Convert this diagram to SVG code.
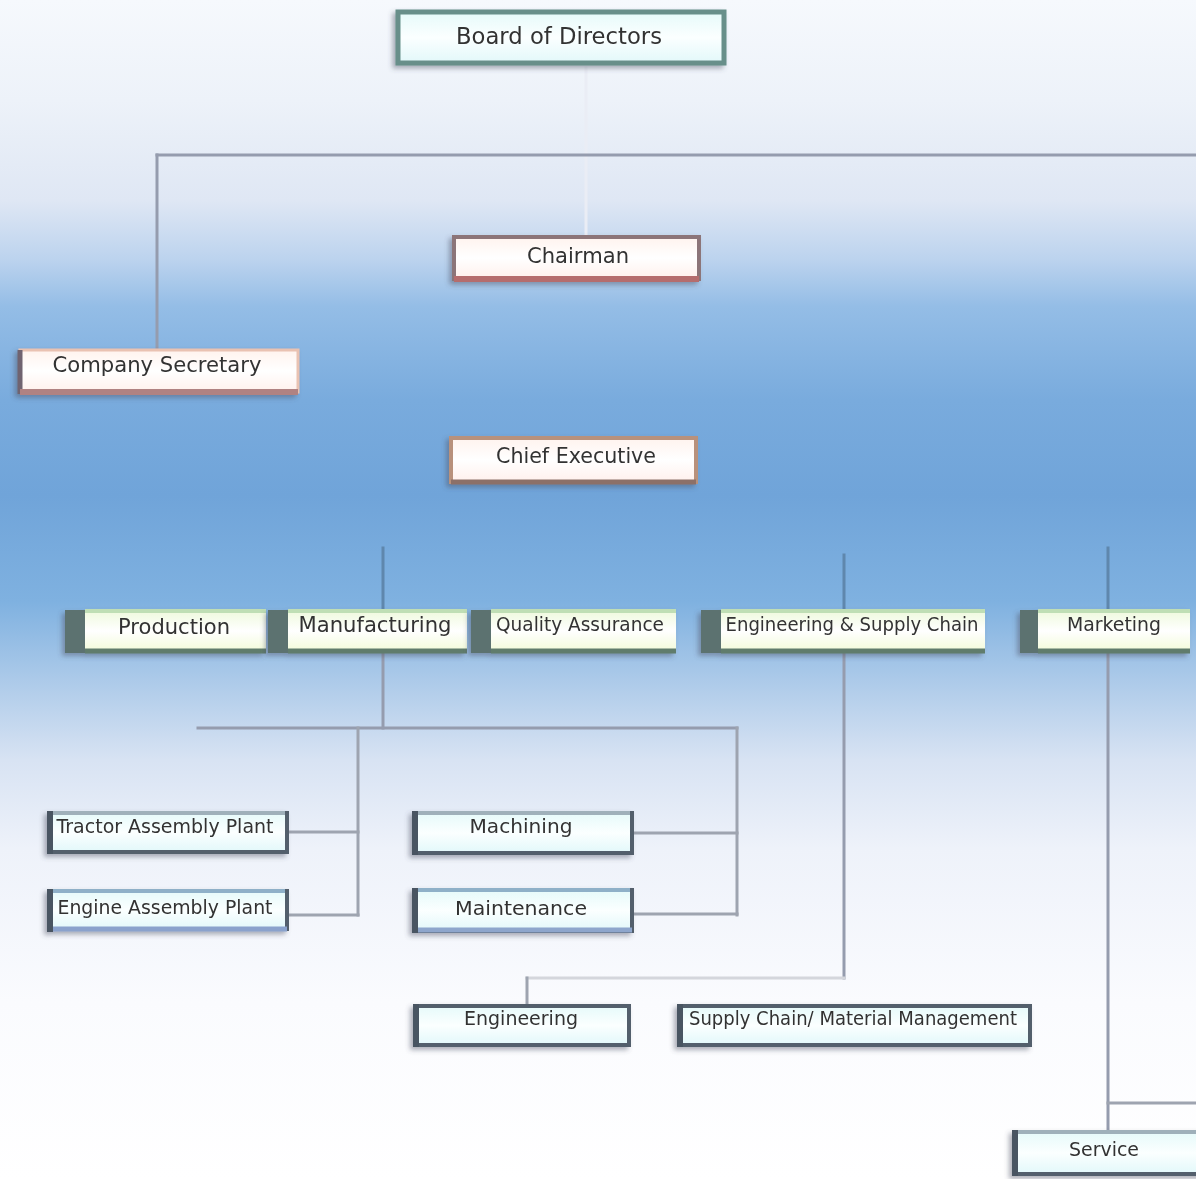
<svg xmlns="http://www.w3.org/2000/svg" width="1196" height="1179" viewBox="0 0 1196 1179">
<defs>
<linearGradient id="bg" x1="0" y1="0" x2="0" y2="1">
<stop offset="0" stop-color="#f6f9fd"/>
<stop offset="0.085" stop-color="#edf2f9"/>
<stop offset="0.17" stop-color="#dfe7f4"/>
<stop offset="0.22" stop-color="#bcd3ee"/>
<stop offset="0.26" stop-color="#94bde6"/>
<stop offset="0.34" stop-color="#79abdd"/>
<stop offset="0.42" stop-color="#70a4d9"/>
<stop offset="0.51" stop-color="#7fb1e0"/>
<stop offset="0.59" stop-color="#b5cfeb"/>
<stop offset="0.645" stop-color="#d8e3f3"/>
<stop offset="0.72" stop-color="#eef2fa"/>
<stop offset="0.85" stop-color="#fafbfe"/>
<stop offset="1" stop-color="#ffffff"/>
</linearGradient>
<linearGradient id="gCyan" x1="0" y1="0" x2="0" y2="1">
<stop offset="0" stop-color="#e6fafa"/>
<stop offset="0.5" stop-color="#fbffff"/>
<stop offset="1" stop-color="#e2f8fa"/>
</linearGradient>
<linearGradient id="gPink" x1="0" y1="0" x2="0" y2="1">
<stop offset="0" stop-color="#fff3ee"/>
<stop offset="0.5" stop-color="#ffffff"/>
<stop offset="1" stop-color="#fff0ec"/>
</linearGradient>
<linearGradient id="gGreen" x1="0" y1="0" x2="0" y2="1">
<stop offset="0" stop-color="#eef9dc"/>
<stop offset="0.5" stop-color="#ffffff"/>
<stop offset="1" stop-color="#f2fbd8"/>
</linearGradient>
<filter id="sh" x="-10%" y="-30%" width="125%" height="170%">
<feDropShadow dx="-3" dy="3" stdDeviation="2.5" flood-color="#4a5060" flood-opacity="0.45"/>
</filter>
<style>
text{font-family:"DejaVu Sans","Liberation Sans",sans-serif;fill:#333333;text-anchor:middle}
.t23{font-size:23px}
.t21{font-size:21px}
.t20{font-size:20px}
.t19{font-size:19.5px}
.conn line{stroke-width:3;stroke-linecap:square}
.c1{stroke:#959cae}
.c2{stroke:#5f87ad}
.c3{stroke:#9ea4b0}
.c4{stroke:#d4d6dc}
.faint{stroke:#eaedf5}
.cyanBox{fill:url(#gCyan);stroke:#678f8a;stroke-width:5}
.pinkBox{fill:url(#gPink)}
.midBox{fill:url(#gGreen)}
.cap{fill:#5b7270}
.low{fill:url(#gCyan);stroke:#525e6c;stroke-width:4}
.lowTop{stroke:#9fb0ba;stroke-width:4}
.lowLeft{stroke:#4a5462;stroke-width:6}
.midTop{stroke:#bfdeb5;stroke-width:4}
.midBot{stroke:#617c6c;stroke-width:5}
</style>
</defs>
<rect x="0" y="0" width="1196" height="1179" fill="url(#bg)"/>

<g id="connectors" class="conn">
<line class="faint" x1="586" y1="68" x2="586" y2="234"/>
<line class="c1" x1="157" y1="155" x2="1196" y2="155"/>
<line class="c1" x1="157" y1="155" x2="157" y2="349"/>
<line class="c2" x1="383" y1="548" x2="383" y2="609"/>
<line class="c2" x1="844" y1="555" x2="844" y2="609"/>
<line class="c2" x1="1108" y1="548" x2="1108" y2="609"/>
<line class="c1" x1="383" y1="653" x2="383" y2="728"/>
<line class="c1" x1="198" y1="728" x2="737" y2="728"/>
<line class="c3" x1="358" y1="728" x2="358" y2="915"/>
<line class="c3" x1="290" y1="832" x2="358" y2="832"/>
<line class="c3" x1="290" y1="915" x2="358" y2="915"/>
<line class="c3" x1="737" y1="728" x2="737" y2="915"/>
<line class="c3" x1="635" y1="833" x2="737" y2="833"/>
<line class="c3" x1="635" y1="914" x2="737" y2="914"/>
<line class="c1" x1="844" y1="653" x2="844" y2="978"/>
<line class="c4" x1="527" y1="978" x2="844" y2="978"/>
<line class="c3" x1="527" y1="978" x2="527" y2="1003"/>
<line class="c1" x1="1108" y1="653" x2="1108" y2="1130"/>
<line class="c3" x1="1108" y1="1103" x2="1196" y2="1103"/>
</g>

<g id="n-board" filter="url(#sh)">
<rect class="cyanBox" x="398" y="12" width="326" height="51"/>
<text class="t23" x="559" y="44" textLength="206" lengthAdjust="spacingAndGlyphs">Board of Directors</text>
</g>

<g id="n-chairman" filter="url(#sh)">
<rect class="pinkBox" x="454" y="237" width="245" height="42" stroke="#8c7479" stroke-width="4"/>
<line x1="454" y1="279" x2="699" y2="279" stroke="#b56d6e" stroke-width="6"/>
<text class="t21" x="578" y="263" textLength="102" lengthAdjust="spacingAndGlyphs">Chairman</text>
</g>

<g id="n-secretary" filter="url(#sh)">
<rect class="pinkBox" x="20" y="350" width="278" height="42" stroke="#e9c2b2" stroke-width="3"/>
<line x1="20" y1="350" x2="20" y2="394" stroke="#6f6470" stroke-width="5"/>
<line x1="20" y1="392" x2="298" y2="392" stroke="#b08282" stroke-width="6"/>
<text class="t21" x="157" y="372" textLength="209" lengthAdjust="spacingAndGlyphs">Company Secretary</text>
</g>

<g id="n-ceo" filter="url(#sh)">
<rect class="pinkBox" x="451" y="438" width="245" height="44" stroke="#b8917c" stroke-width="4"/>
<line x1="451" y1="482" x2="696" y2="482" stroke="#8c7068" stroke-width="5"/>
<text class="t21" x="576" y="463" textLength="160" lengthAdjust="spacingAndGlyphs">Chief Executive</text>
</g>

<g id="n-production" filter="url(#sh)">
<rect class="cap" x="65" y="610" width="20" height="43"/>
<rect class="midBox" x="85" y="610" width="181" height="42"/>
<line class="midTop" x1="85" y1="611" x2="266" y2="611"/>
<line class="midBot" x1="85" y1="651" x2="266" y2="651"/>
<text class="t21" x="174" y="634" textLength="112" lengthAdjust="spacingAndGlyphs">Production</text>
</g>

<g id="n-manufacturing" filter="url(#sh)">
<rect class="cap" x="268" y="610" width="20" height="43"/>
<rect class="midBox" x="288" y="610" width="179" height="42"/>
<line class="midTop" x1="288" y1="611" x2="467" y2="611"/>
<line class="midBot" x1="288" y1="651" x2="467" y2="651"/>
<text class="t21" x="375" y="632" textLength="153" lengthAdjust="spacingAndGlyphs">Manufacturing</text>
</g>

<g id="n-qa" filter="url(#sh)">
<rect class="cap" x="471" y="610" width="20" height="43"/>
<rect class="midBox" x="491" y="610" width="185" height="42"/>
<line class="midTop" x1="491" y1="611" x2="676" y2="611"/>
<line class="midBot" x1="491" y1="651" x2="676" y2="651"/>
<text class="t19" x="580" y="631" textLength="168" lengthAdjust="spacingAndGlyphs">Quality Assurance</text>
</g>

<g id="n-esc" filter="url(#sh)">
<rect class="cap" x="701" y="610" width="20" height="43"/>
<rect class="midBox" x="721" y="610" width="264" height="42"/>
<line class="midTop" x1="721" y1="611" x2="985" y2="611"/>
<line class="midBot" x1="721" y1="651" x2="985" y2="651"/>
<text class="t20" x="852" y="631" textLength="253" lengthAdjust="spacingAndGlyphs">Engineering &amp; Supply Chain</text>
</g>

<g id="n-marketing" filter="url(#sh)">
<rect class="cap" x="1020" y="610" width="18" height="43"/>
<rect class="midBox" x="1038" y="610" width="152" height="42"/>
<line class="midTop" x1="1038" y1="611" x2="1190" y2="611"/>
<line class="midBot" x1="1038" y1="651" x2="1190" y2="651"/>
<text class="t20" x="1114" y="631" textLength="94" lengthAdjust="spacingAndGlyphs">Marketing</text>
</g>

<g id="n-tractor" filter="url(#sh)">
<rect class="low" x="50" y="813" width="237" height="39"/>
<line class="lowTop" x1="52" y1="813" x2="285" y2="813"/>
<line class="lowLeft" x1="50" y1="811" x2="50" y2="854"/>
<text class="t19" x="165" y="833" textLength="217" lengthAdjust="spacingAndGlyphs">Tractor Assembly Plant</text>
</g>

<g id="n-engine" filter="url(#sh)">
<rect class="low" x="50" y="891" width="237" height="38"/>
<line class="lowTop" x1="52" y1="891" x2="285" y2="891" style="stroke:#8fb0c8"/>
<line x1="52" y1="929" x2="287" y2="929" stroke="#8aa2cc" stroke-width="5"/>
<line class="lowLeft" x1="50" y1="889" x2="50" y2="932"/>
<text class="t19" x="165" y="914" textLength="215" lengthAdjust="spacingAndGlyphs">Engine Assembly Plant</text>
</g>

<g id="n-machining" filter="url(#sh)">
<rect class="low" x="415" y="813" width="217" height="40"/>
<line class="lowTop" x1="417" y1="813" x2="630" y2="813"/>
<line class="lowLeft" x1="415" y1="811" x2="415" y2="855"/>
<text class="t19" x="521" y="833" textLength="103" lengthAdjust="spacingAndGlyphs">Machining</text>
</g>

<g id="n-maintenance" filter="url(#sh)">
<rect class="low" x="415" y="890" width="217" height="41"/>
<line class="lowTop" x1="417" y1="890" x2="630" y2="890" style="stroke:#8fb0c8"/>
<line x1="417" y1="930" x2="632" y2="930" stroke="#8ea6cc" stroke-width="5"/>
<line class="lowLeft" x1="415" y1="888" x2="415" y2="933"/>
<text class="t19" x="521" y="915" textLength="132" lengthAdjust="spacingAndGlyphs">Maintenance</text>
</g>

<g id="n-engineering" filter="url(#sh)">
<rect class="low" x="416" y="1006" width="213" height="39"/>
<line class="lowLeft" x1="416" y1="1004" x2="416" y2="1047"/>
<text class="t19" x="521" y="1025" textLength="114" lengthAdjust="spacingAndGlyphs">Engineering</text>
</g>

<g id="n-supply" filter="url(#sh)">
<rect class="low" x="680" y="1006" width="350" height="39"/>
<line class="lowLeft" x1="680" y1="1004" x2="680" y2="1047"/>
<text class="t19" x="853" y="1025" textLength="328" lengthAdjust="spacingAndGlyphs">Supply Chain/ Material Management</text>
</g>

<g id="n-service" filter="url(#sh)">
<rect class="low" x="1015" y="1132" width="190" height="42"/>
<line class="lowTop" x1="1017" y1="1132" x2="1196" y2="1132"/>
<line class="lowLeft" x1="1015" y1="1130" x2="1015" y2="1176"/>
<text class="t19" x="1104" y="1156" textLength="70" lengthAdjust="spacingAndGlyphs">Service</text>
</g>
</svg>
